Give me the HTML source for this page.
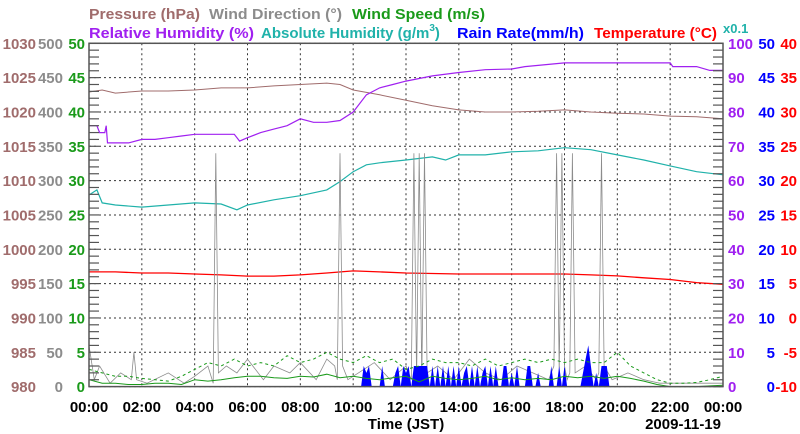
<!DOCTYPE html>
<html><head><meta charset="utf-8"><style>
html,body{margin:0;padding:0;background:#fff;}
svg{display:block;font-family:"Liberation Sans",sans-serif;}
</style></head><body>
<svg id="chart" width="800" height="434" viewBox="0 0 800 434" xmlns="http://www.w3.org/2000/svg">
<g font-size="15" font-weight="bold">
<text x="89" y="19" fill="#a06c6c" textLength="111" lengthAdjust="spacingAndGlyphs">Pressure (hPa)</text>
<text x="209" y="19" fill="#8c8c8c" textLength="133" lengthAdjust="spacingAndGlyphs">Wind Direction (°)</text>
<text x="352" y="19" fill="#1a9a1a" textLength="133" lengthAdjust="spacingAndGlyphs">Wind Speed (m/s)</text>
<text x="89" y="38" fill="#a020f0" textLength="165" lengthAdjust="spacingAndGlyphs">Relative Humidity (%)</text>
<text x="261" y="38" fill="#20b2aa">Absolute Humidity (g/m<tspan font-size="10" dy="-7">3</tspan><tspan dy="7">)</tspan></text>
<text x="457" y="38" fill="#0000ff" textLength="127" lengthAdjust="spacingAndGlyphs">Rain Rate(mm/h)</text>
<text x="594" y="38" fill="#ff0000" textLength="123" lengthAdjust="spacingAndGlyphs">Temperature (°C)</text>
<text x="723" y="33" fill="#20b2aa" font-size="13">x0.1</text>
</g>
<g id="grid"></g>
<g id="series"></g>
<g id="axes"></g>
</svg>
<script>
// ---- data ----
const pressureT = [0,0.5,1,2,3,4,5,6,7,8,9,9.5,10,11,12,13,14,15,16,17,18,19,20,21,22,23,24];
const pressureV = [1022.9,1023.2,1022.75,1023.05,1023.05,1023.2,1023.5,1023.5,1023.8,1024,1024.2,1024,1023.2,1022.5,1021.7,1020.9,1020.3,1020,1020,1020.1,1020.3,1020,1019.8,1019.7,1019.4,1019.3,1019];
const rhT = [0,0.3,0.4,0.6,0.65,0.7,1.5,2,2.5,3,3.5,4,5.5,5.7,6,6.5,7,7.5,8,8.5,9,9.5,10,10.5,11,11.5,12,13,14,15,16,16.5,18,22,22.1,23,23.5,24];
const rhV = [76,76,74,74,76,71,71,72,72,72.5,73,73.5,73.5,71.5,72.5,74,75,76,78,77,77,77.5,80,85,87,88,89,90.5,91.5,92.3,92.5,93.2,94.3,94.3,93.2,93.2,92.1,92.1];
const ahT = [0,0.3,0.5,1,2,3,4,5,5.6,6,7,8,9,9.5,10,10.5,11,12,13,13.5,14,15,16,17,18,19,20,21,22,23,24];
const ahV = [5.58,5.73,5.35,5.29,5.23,5.29,5.35,5.32,5.15,5.29,5.44,5.56,5.73,5.97,6.26,6.46,6.52,6.6,6.69,6.6,6.75,6.75,6.84,6.87,6.96,6.9,6.75,6.6,6.43,6.26,6.17];
const tempT = [0,1,2,3,4,5,6,7,8,9,10,11,12,14,16,17,18,19,20,21,22,23,24];
const tempV = [6.7,6.7,6.55,6.55,6.4,6.27,6.1,6.1,6.27,6.55,6.85,6.7,6.55,6.4,6.4,6.4,6.4,6.27,6.12,5.85,5.6,5.15,4.9];
const dirT = [0,0.2,0.4,0.8,1.2,1.6,1.7,1.8,2.2,3,3.6,4,4.5,4.7,4.8,4.9,5.2,5.6,6,6.6,7,7.6,8,8.6,9,9.3,9.4,9.5,9.6,9.8,10.2,10.8,11.4,12,12.2,12.3,12.4,12.5,12.6,12.7,12.8,13.2,13.8,14.4,15,15.6,16.2,16.8,17.4,17.6,17.7,17.8,17.9,18,18.1,18.2,18.3,18.4,18.8,19.2,19.3,19.4,19.5,19.8,20.4,21,21.6,22.2,22.8,23.4,24];
const dirV = [60,10,30,5,20,10,50,10,5,20,5,15,30,5,340,20,30,20,40,10,30,20,35,10,40,30,10,340,30,10,20,35,10,30,10,340,10,340,10,340,20,30,10,40,20,10,30,20,10,30,340,20,340,30,10,20,340,20,30,10,20,340,30,10,20,10,5,5,5,5,5];
const speedT = [0,0.5,1,1.5,2,2.5,3,3.5,4,4.5,5,5.5,6,6.5,7,7.5,8,8.5,9,9.5,10,10.5,11,11.5,12,12.5,13,13.5,14,14.5,15,15.5,16,16.5,17,17.5,18,18.5,19,19.5,20,20.5,21,21.5,22,22.5,23,23.5,24];
const speedV = [1.0,0.5,0.5,0.3,0.3,0.5,0.5,0.3,1.0,0.8,1.0,1.3,1.5,1.5,1.3,1.2,1.5,1.4,1.8,1.3,1.5,1.2,1.0,1.3,1.5,0.7,1.5,1.2,1.0,1.2,1.5,1.0,1.3,1.0,1.2,1.0,1.5,1.3,1.5,1.2,1.5,1.2,0.8,0.3,0,0,0,0.1,0.2];
const gustV = [2.5,2.0,1.5,1.5,1.2,1.0,0.8,1.5,2.5,3.5,3.0,4.0,3.0,3.5,3.0,4.5,3.5,4.0,5.0,4.0,3.5,4.5,3.5,4.0,2.5,3.0,4.0,3.5,3.5,3.0,4.0,3.0,3.5,4.0,3.5,4.0,3.5,4.0,3.5,3.5,5.0,3.0,2.0,1.0,0.5,0.5,0.6,1.0,1.5];
const rainStart = 10.3, rainStep = 0.1;
const rainV = [0,3,2,3,0,0,0,0,3,0,0,0,0,2,3,0,3,2,3,0,3,3,3,3,3,3,0,3,0,3,0,3,0,3,0,3,0,3,0,2,3,0,3,0,3,0,2,3,0,3,0,3,0,0,3,3,0,2,0,3,0,0,0,3,3,0,0,2,0,0,0,0,3,0,0,3,0,3,0,0,0,0,0,0,2,4,6,3,0,2,0,3,3,3,0,0];
const hourTicks = ["00:00","02:00","04:00","06:00","08:00","10:00","12:00","14:00","16:00","18:00","20:00","22:00","00:00"];
const pressureTicks = [980,985,990,995,1000,1005,1010,1015,1020,1025,1030];
const dirTicks = [0,50,100,150,200,250,300,350,400,450,500];
const speedTicks = [0,5,10,15,20,25,30,35,40,45,50];
const rhTicks = [0,10,20,30,40,50,60,70,80,90,100];
const rainTicks = [0,5,10,15,20,25,30,35,40,45,50];
const tempTicks = [-10,-5,0,5,10,15,20,25,30,35,40];

// ---- scales ----
const X0=89, X1=723, Y0=43.3, Y1=386.6;
const xs = t => X0 + t*(X1-X0)/24;
const ys = (v,min,max) => Y1 - (v-min)/(max-min)*(Y1-Y0);
const NS="http://www.w3.org/2000/svg";
function mk(tag, parent){const e=document.createElementNS(NS,tag);parent.appendChild(e);return e;}
const grid=document.getElementById('grid'), series=document.getElementById('series'), axes=document.getElementById('axes');

for(let i=0;i<=10;i++){
  const y=Y0+i*(Y1-Y0)/10;
  const l=mk('line',grid);
  
  
  l.setAttribute('x1',X0);l.setAttribute('x2',X1);l.setAttribute('y1',y);l.setAttribute('y2',y);
  l.setAttribute('stroke','#333');l.setAttribute('stroke-width','1');l.setAttribute('stroke-dasharray','2,3');
}
for(let i=1;i<12;i++){
  const x=X0+i*(X1-X0)/12;
  const l=mk('line',grid);
  
  
  l.setAttribute('x1',x);l.setAttribute('x2',x);l.setAttribute('y1',Y0);l.setAttribute('y2',Y1);
  l.setAttribute('stroke','#333');l.setAttribute('stroke-width','1');l.setAttribute('stroke-dasharray','2,3');
}

function line(T,V,min,max,color,name,w,dash){
  const p=mk('polyline',series);
  
  
  p.setAttribute('points',T.map((t,i)=>xs(t).toFixed(1)+','+ys(V[i],min,max).toFixed(1)).join(' '));
  p.setAttribute('fill','none');p.setAttribute('stroke',color);p.setAttribute('stroke-width',w||1);
  if(dash)p.setAttribute('stroke-dasharray',dash);
}
line(tempT,tempV,-10,40,'#ff0000','temperature-line',1.3);
line(pressureT,pressureV,980,1030,'#a06c6c','pressure-line',1);
line(rhT,rhV,0,100,'#a020f0','relative-humidity-line',1.2);
line(ahT,ahV,0,10,'#20b2aa','absolute-humidity-line',1.2);
line(dirT,dirV,0,500,'#8c8c8c','wind-direction-line',0.8);
{
  let pts=[xs(rainStart).toFixed(1)+','+Y1];
  rainV.forEach((v,i)=>{pts.push(xs(rainStart+i*rainStep).toFixed(1)+','+ys(v,0,50).toFixed(1));});
  pts.push(xs(rainStart+(rainV.length-1)*rainStep).toFixed(1)+','+Y1);
  const p=mk('polygon',series);
  
  
  p.setAttribute('points',pts.join(' '));p.setAttribute('fill','#0000ff');
}
line(speedT,gustV,0,50,'#1a9a1a','wind-gust-line',1,'3,3');
line(speedT,speedV,0,50,'#1a9a1a','wind-speed-line',1);

{
  const r=mk('rect',axes);
  
  
  r.setAttribute('x',X0);r.setAttribute('y',Y0);r.setAttribute('width',X1-X0);r.setAttribute('height',Y1-Y0);
  r.setAttribute('fill','none');r.setAttribute('stroke','#555');r.setAttribute('stroke-width','1.5');
}
for(let i=0;i<=50;i++){
  const y=Y0+i*(Y1-Y0)/50;
  const len = 10;
  [[X0,X0+len],[X1,X1-len]].forEach(([a,b])=>{
    const l=mk('line',axes);
    
    
    l.setAttribute('x1',a);l.setAttribute('x2',b);l.setAttribute('y1',y);l.setAttribute('y2',y);
    l.setAttribute('stroke','#555');l.setAttribute('stroke-width','1.2');
  });
}
function ylabels(ticks,min,max,x,anchor,color,name){
  ticks.forEach(v=>{
    const t=mk('text',axes);
    
    
    t.setAttribute('x',x);t.setAttribute('y',(ys(v,min,max)+5.5).toFixed(1));
    t.setAttribute('text-anchor',anchor);t.setAttribute('fill',color);
    t.setAttribute('font-size','15');t.setAttribute('font-weight','bold');
    t.textContent=v;
  });
}
ylabels(pressureTicks,980,1030,36,'end','#a06c6c','pressure-tick-label');
ylabels(dirTicks,0,500,63,'end','#8c8c8c','wind-direction-tick-label');
ylabels(speedTicks,0,50,85,'end','#1a9a1a','wind-speed-tick-label');
ylabels(rhTicks,0,100,728,'start','#a020f0','humidity-tick-label');
ylabels(rainTicks,0,50,775,'end','#0000ff','rain-tick-label');
ylabels(tempTicks,-10,40,797,'end','#ff0000','temperature-tick-label');
hourTicks.forEach((s,i)=>{
  const t=mk('text',axes);
  
  
  t.setAttribute('x',xs(i*2).toFixed(1));t.setAttribute('y','412');
  t.setAttribute('text-anchor','middle');t.setAttribute('font-size','15');t.setAttribute('font-weight','bold');
  t.textContent=s;
});
{
  const t=mk('text',axes);
  
  
  t.setAttribute('x','406');t.setAttribute('y','429');t.setAttribute('text-anchor','middle');
  t.setAttribute('font-size','15');t.setAttribute('font-weight','bold');t.textContent='Time (JST)';
  const d=mk('text',axes);
  
  
  d.setAttribute('x','721');d.setAttribute('y','429');d.setAttribute('text-anchor','end');
  d.setAttribute('font-size','15');d.setAttribute('font-weight','bold');d.textContent='2009-11-19';
}
</script>
</body></html>
